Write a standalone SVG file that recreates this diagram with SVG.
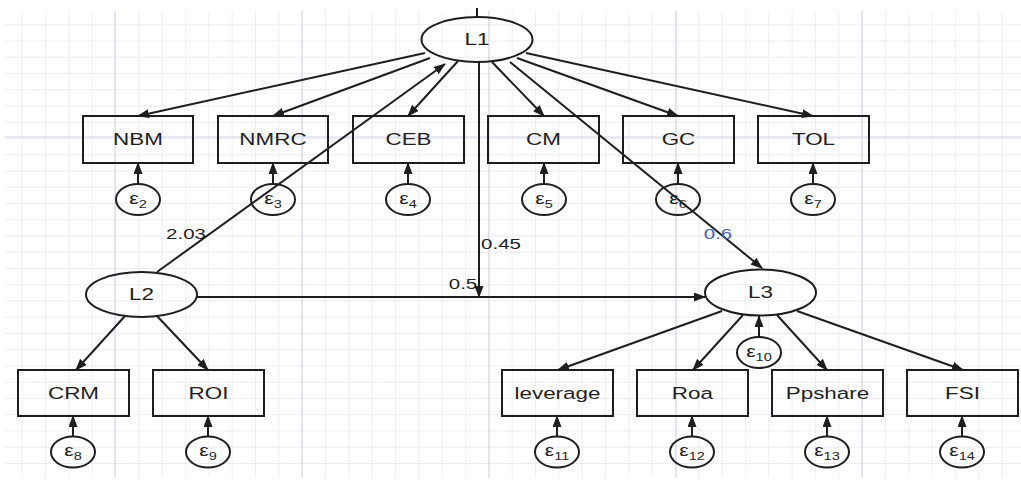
<svg xmlns="http://www.w3.org/2000/svg" width="1021" height="482" viewBox="0 0 1021 482">
<style>
.t{font-family:"Liberation Sans",Arial,sans-serif;font-size:17px;text-anchor:middle;fill:#1e1e1e;transform-box:fill-box;transform-origin:center;transform:scaleX(1.32)}
.n{font-size:15.5px}
.blue{fill:#3d63b0}
.e{font-size:16px}
.sub{font-size:11px}
.box{fill:none;stroke:#1e1e1e;stroke-width:2}
.ell{fill:none;stroke:#1e1e1e;stroke-width:2}
.c line{stroke:#1e1e1e;stroke-width:2;marker-end:url(#ah)}
.grid{stroke:#d2d2e4;stroke-width:1}
</style>
<defs>
<marker id="ah" markerUnits="userSpaceOnUse" markerWidth="12" markerHeight="9" refX="11" refY="4.5" orient="auto">
<path d="M0,0 L12,4.5 L0,9 z" fill="#1e1e1e"/>
</marker>
<pattern id="gp" patternUnits="userSpaceOnUse" x="-1.6" y="8" width="23.33" height="16.25">
<path d="M0,0 V16.25 M0,0 H23.33" fill="none" stroke="#e6e6ef" stroke-width="1.2"/>
</pattern>
</defs>
<rect width="1021" height="482" fill="#fff"/>
<g id="grid">
<rect x="5" y="11" width="1016" height="467" fill="url(#gp)"/>
<path class="grid" d="M115,11V478 M302,11V478 M489,11V478 M676,11V478 M862,11V478 M5,137H1021"/>
</g>
<g class="c" id="connectors">
<line x1="477" y1="8" x2="477" y2="17" style="marker-end:none"/>
<line x1="425" y1="53" x2="138" y2="116"/>
<line x1="430" y1="58" x2="273" y2="116"/>
<line x1="458" y1="61" x2="408" y2="116"/>
<line x1="492" y1="62" x2="544" y2="116"/>
<line x1="517" y1="58" x2="678" y2="116"/>
<line x1="526" y1="53" x2="813" y2="116"/>
<line x1="510" y1="62" x2="762" y2="268"/>
<line x1="479" y1="62" x2="479" y2="297"/>
<line x1="157" y1="272" x2="445" y2="64"/>
<line x1="197" y1="297" x2="705" y2="297"/>
<line x1="125" y1="316" x2="76" y2="370"/>
<line x1="157" y1="316" x2="208" y2="370"/>
<line x1="722" y1="311" x2="558" y2="370"/>
<line x1="743" y1="315" x2="693" y2="370"/>
<line x1="777" y1="315" x2="827" y2="370"/>
<line x1="797" y1="311" x2="963" y2="370"/>
<line x1="759" y1="337" x2="759" y2="316"/>
<line x1="138" y1="184" x2="138" y2="163"/>
<line x1="273" y1="184" x2="273" y2="163"/>
<line x1="408" y1="184" x2="408" y2="163"/>
<line x1="544" y1="184" x2="544" y2="163"/>
<line x1="678" y1="184" x2="678" y2="163"/>
<line x1="813" y1="184" x2="813" y2="163"/>
<line x1="73" y1="436" x2="73" y2="416"/>
<line x1="208" y1="436" x2="208" y2="416"/>
<line x1="557" y1="436" x2="557" y2="416"/>
<line x1="692" y1="436" x2="692" y2="416"/>
<line x1="827" y1="436" x2="827" y2="416"/>
<line x1="962" y1="436" x2="962" y2="416"/>
</g>
<g id="L1"><ellipse class="ell" cx="477" cy="39.5" rx="55.5" ry="22.5"/><text class="t" x="477" y="45.5">L1</text></g>
<g id="L2"><ellipse class="ell" cx="141.5" cy="294.5" rx="55.5" ry="22.5"/><text class="t" x="141.5" y="300.5">L2</text></g>
<g id="L3"><ellipse class="ell" cx="760.5" cy="292.5" rx="55.5" ry="23"/><text class="t" x="760.5" y="298.5">L3</text></g>
<g id="NBM"><rect class="box" x="83" y="116" width="110" height="47"/><text class="t" x="138" y="145.5">NBM</text></g>
<g id="NMRC"><rect class="box" x="218" y="116" width="110" height="47"/><text class="t" x="273" y="145.5">NMRC</text></g>
<g id="CEB"><rect class="box" x="353" y="116" width="111" height="47"/><text class="t" x="408.5" y="145.5">CEB</text></g>
<g id="CM"><rect class="box" x="488" y="116" width="111" height="47"/><text class="t" x="543.5" y="145.5">CM</text></g>
<g id="GC"><rect class="box" x="623" y="116" width="111" height="47"/><text class="t" x="678.5" y="145.5">GC</text></g>
<g id="TOL"><rect class="box" x="758" y="116" width="111" height="47"/><text class="t" x="813.5" y="145.5">TOL</text></g>
<g id="CRM"><rect class="box" x="18" y="370" width="111" height="46"/><text class="t" x="73.5" y="399">CRM</text></g>
<g id="ROI"><rect class="box" x="153" y="370" width="111" height="46"/><text class="t" x="208.5" y="399">ROI</text></g>
<g id="leverage"><rect class="box" x="502" y="370" width="111" height="46"/><text class="t" x="557.5" y="399">leverage</text></g>
<g id="Roa"><rect class="box" x="637" y="370" width="111" height="46"/><text class="t" x="692.5" y="399">Roa</text></g>
<g id="Ppshare"><rect class="box" x="772" y="370" width="111" height="46"/><text class="t" x="827.5" y="399">Ppshare</text></g>
<g id="FSI"><rect class="box" x="907" y="370" width="111" height="46"/><text class="t" x="962.5" y="399">FSI</text></g>
<g id="e2"><ellipse class="ell" cx="138" cy="199.5" rx="22" ry="15.5"/><text class="t e" x="138" y="204">ε<tspan class="sub" dy="4">2</tspan></text></g>
<g id="e3"><ellipse class="ell" cx="273" cy="199.5" rx="22" ry="15.5"/><text class="t e" x="273" y="204">ε<tspan class="sub" dy="4">3</tspan></text></g>
<g id="e4"><ellipse class="ell" cx="408" cy="199.5" rx="22" ry="15.5"/><text class="t e" x="408" y="204">ε<tspan class="sub" dy="4">4</tspan></text></g>
<g id="e5"><ellipse class="ell" cx="544" cy="199.5" rx="22" ry="15.5"/><text class="t e" x="544" y="204">ε<tspan class="sub" dy="4">5</tspan></text></g>
<g id="e6"><ellipse class="ell" cx="678" cy="199.5" rx="22" ry="15.5"/><text class="t e" x="678" y="204">ε<tspan class="sub" dy="4">6</tspan></text></g>
<g id="e7"><ellipse class="ell" cx="813" cy="199.5" rx="22" ry="15.5"/><text class="t e" x="813" y="204">ε<tspan class="sub" dy="4">7</tspan></text></g>
<g id="e8"><ellipse class="ell" cx="73" cy="452" rx="22" ry="15.5"/><text class="t e" x="73" y="456.5">ε<tspan class="sub" dy="4">8</tspan></text></g>
<g id="e9"><ellipse class="ell" cx="208" cy="452" rx="22" ry="15.5"/><text class="t e" x="208" y="456.5">ε<tspan class="sub" dy="4">9</tspan></text></g>
<g id="e10"><ellipse class="ell" cx="759" cy="352.5" rx="22" ry="15.5"/><text class="t e" x="759" y="357">ε<tspan class="sub" dy="4">10</tspan></text></g>
<g id="e11"><ellipse class="ell" cx="557" cy="452" rx="22" ry="15.5"/><text class="t e" x="557" y="456.5">ε<tspan class="sub" dy="4">11</tspan></text></g>
<g id="e12"><ellipse class="ell" cx="692" cy="452" rx="22" ry="15.5"/><text class="t e" x="692" y="456.5">ε<tspan class="sub" dy="4">12</tspan></text></g>
<g id="e13"><ellipse class="ell" cx="827" cy="452" rx="22" ry="15.5"/><text class="t e" x="827" y="456.5">ε<tspan class="sub" dy="4">13</tspan></text></g>
<g id="e14"><ellipse class="ell" cx="962" cy="452" rx="22" ry="15.5"/><text class="t e" x="962" y="456.5">ε<tspan class="sub" dy="4">14</tspan></text></g>
<g id="labels">
<text class="t n" x="186" y="239">2.03</text>
<text class="t n" x="501" y="249">0.45</text>
<text class="t n" x="463" y="289">0.5</text>
<text class="t n blue" x="718" y="239">0.6</text>
</g>
</svg>
